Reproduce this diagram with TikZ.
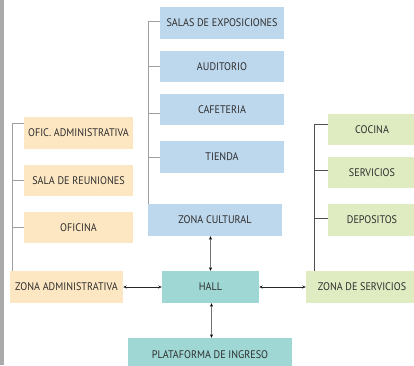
\documentclass[tikz,border=0pt]{standalone}
\usepackage{fontspec}
\setmainfont{PT Sans}[FakeStretch=0.92]
\usetikzlibrary{arrows.meta}
\definecolor{cblue}{HTML}{BDD7EC}
\definecolor{corange}{HTML}{FDE6C2}
\definecolor{cgreen}{HTML}{DFEBC1}
\definecolor{cteal}{HTML}{9ED7D4}
\definecolor{ctext}{HTML}{2E2E2E}
\definecolor{cline}{HTML}{A0A0A0}
\definecolor{cdark}{HTML}{505050}
\tikzset{
  box/.style={rectangle, inner sep=0pt, text=ctext, font=\fontsize{11}{12}\selectfont, minimum height=#1},
  box/.default=32pt,
  bluebox/.style={box, fill=cblue, minimum width=124pt},
  orbox/.style={box, fill=corange, minimum width=109pt},
  grbox/.style={box, fill=cgreen, minimum width=88pt},
  tree/.style={draw=cline, line width=0.8pt},
  treedark/.style={draw=cdark, line width=0.8pt},
  link/.style={draw=black!85, line width=0.6pt, {Stealth[length=3.5pt,width=3pt]}-{Stealth[length=3.5pt,width=3pt]}},
  vlink/.style={draw=black!55, line width=0.7pt, {Stealth[length=3.5pt,width=3pt,black]}-{Stealth[length=3.5pt,width=3pt,black]}}
}
\begin{document}
\begin{tikzpicture}[x=1pt,y=-1pt]
\useasboundingbox (0,0) rectangle (414,365);
\clip (0,0) rectangle (414,365);
\fill[white] (0,0) rectangle (414,365);
\fill[cline!90] (0,0) rectangle (3.5,365);
% cultural
\node[bluebox] (salas) at (222,23) {SALAS DE EXPOSICIONES};
\node[bluebox, minimum height=31pt] (aud) at (222,66.5) {AUDITORIO};
\node[bluebox, minimum height=31pt] (caf) at (222,109.5) {CAFETERIA};
\node[bluebox] (tienda) at (222,157) {TIENDA};
\node[box, fill=cblue, minimum width=134pt] (cult) at (215,220) {ZONA CULTURAL};
% administrativa
\node[orbox] (ofic) at (78.5,133) {OFIC. ADMINISTRATIVA};
\node[orbox, minimum height=31pt] (sala) at (78.5,180.5) {SALA DE REUNIONES};
\node[orbox, minimum height=31pt] (oficina) at (78.5,227.5) {OFICINA};
\node[box, fill=corange, minimum width=113pt] (zadm) at (66.5,287) {ZONA ADMINISTRATIVA};
% servicios
\node[grbox, minimum height=31pt] (cocina) at (372,129.5) {COCINA};
\node[grbox, minimum height=31pt] (serv) at (372,172.5) {SERVICIOS};
\node[grbox] (depo) at (372,220) {DEPOSITOS};
\node[box, fill=cgreen, minimum width=112pt] (zserv) at (362,287) {ZONA DE SERVICIOS};
% centro
\node[box, fill=cteal, minimum width=97pt] (hall) at (210.5,287) {HALL};
\node[box=33pt, fill=cteal, minimum width=164pt] (plat) at (210,354.5) {PLATAFORMA DE INGRESO};
% tree cultural
\coordinate (ctop) at (148.5,21);
\draw[tree] (salas.west |- ctop) -- (ctop) -- (ctop |- cult.north);
\draw[tree] (aud.west) -- (aud.west -| ctop);
\draw[tree] ([yshift=-4pt]caf.west) -- ([yshift=-4pt]caf.west -| ctop);
\draw[tree] (tienda.west) -- (tienda.west -| ctop);
% tree administrativa
\coordinate (atop) at (12,123);
\draw[tree] (ofic.west |- atop) -- (atop) -- (atop |- zadm.north);
\draw[tree] (sala.west) -- (sala.west -| atop);
\draw[tree] (oficina.west) -- (oficina.west -| atop);
% tree servicios
\coordinate (stop) at (314,124);
\draw[treedark] (cocina.west |- stop) -- (stop) -- (stop |- zserv.north);
\draw[treedark] ([yshift=2.5pt]serv.west) -- ([yshift=2.5pt]serv.west -| stop);
\draw[treedark] ([yshift=2pt]depo.west) -- ([yshift=2pt]depo.west -| stop);
% links
\draw[link] (zadm) -- (hall);
\draw[link] (hall) -- (zserv);
\draw[vlink] (cult.south -| hall) -- (hall.north);
\draw[vlink] ([xshift=1pt]hall.south) -- ([xshift=1pt]hall.south |- plat.north);
\end{tikzpicture}
\end{document}
